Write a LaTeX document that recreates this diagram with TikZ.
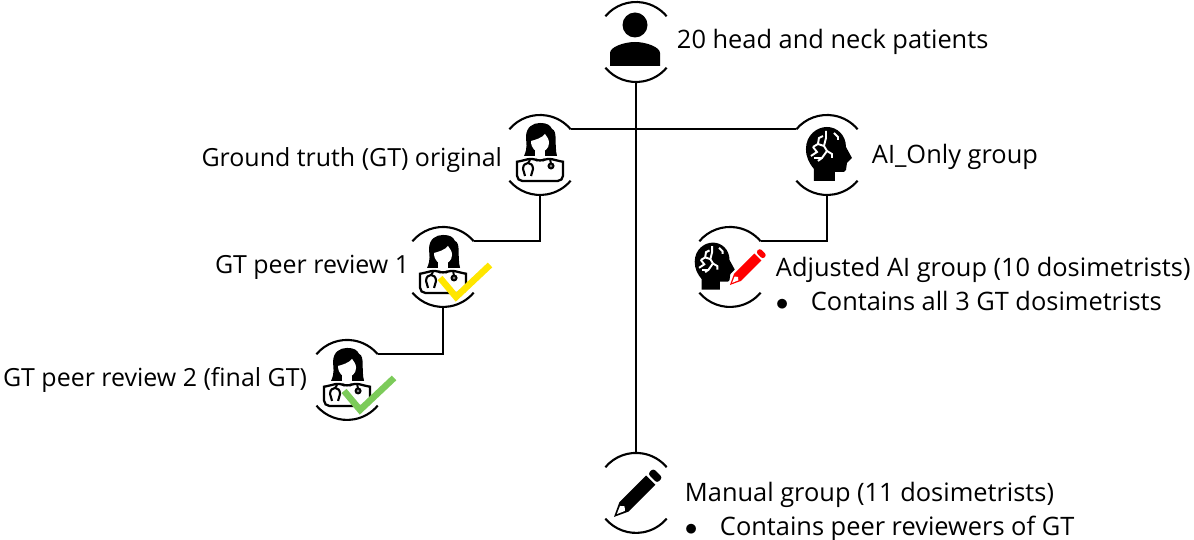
\documentclass[tikz,border=0pt]{standalone}
\usepackage{fontspec}
\setmainfont{Open Sans}
\usetikzlibrary{positioning}

\definecolor{tickyellow}{RGB}{255,230,0}
\definecolor{tickgreen}{RGB}{124,203,90}

\tikzset{
  ring/.style={circle,minimum size=1.6cm,inner sep=0pt,outer sep=0pt},
  wire/.style={line width=1.2pt,black},
  caption/.style={inner sep=0pt,outer sep=0pt,align=left,font=\fontsize{14.45}{19.3}\selectfont},
  leftcaption/.style={caption,font=\fontsize{14.2}{19.3}\selectfont},
  patienticon/.pic={
    \fill (-1,-17) circle (12.5);
    \fill (-26,24) -- (-26,11) .. controls (-26,5) and (-12,0) .. (-1,0) .. controls (10,0) and (24,5) .. (24,11) -- (24,24) -- cycle;
  },
  doctoricon/.pic={
    \fill (-16,1) .. controls (-12,-8) and (-14,-12) .. (-14,-18) .. controls (-14,-28) and (-7,-32) .. (0,-32) .. controls (7,-32) and (10,-30) .. (12,-26) .. controls (18,-24) and (14,-10) .. (17,1) -- cycle;
    \fill[white] (-9,-14) .. controls (-5,-15) and (2,-17) .. (5,-21) .. controls (7,-18) and (9,-16) .. (9,-12) .. controls (9,-6) and (4,-3) .. (0,-3) .. controls (-4,-3) and (-9,-6) .. (-9,-14) -- cycle;
    \fill[white] (-5,-5) rectangle (5,3);
    \draw[line width=1.3pt,rounded corners=3pt] (-23,26) -- (-23,12) .. controls (-23,7) and (-15,5) .. (-7,3) -- (0,7) -- (7,3) .. controls (15,5) and (23,7) .. (23,12) -- (23,26) -- cycle;
    \draw[line width=1.2pt] (-15,21) -- (-17,14) .. controls (-17,6) and (-7,6) .. (-7,14) -- (-9,21);
    \draw[line width=1.1pt] (-12,8) -- (-10,5);
    \draw[line width=1.1pt] (11,9) -- (10,4);
    \draw[line width=1.1pt,fill=gray] (11,11) circle (2.5);
  },
  brainicon/.pic={
    \fill (-13,26) -- (-13,14) .. controls (-18,8) and (-21,2) .. (-21,-6) .. controls (-21,-20) and (-10,-28) .. (0,-28) .. controls (10,-28) and (19,-20) .. (19,-8) -- (25,3) -- (20,8) -- (19,15) -- (17,17) -- (8,17) -- (8,26) -- cycle;
    \draw[white,line width=1.1pt] (-1,-24) -- (-1,-17) -- (-3,-9) -- (0,-4) -- (-5,3) -- (-9,6);
    \draw[white,line width=1.1pt] (-3,-9) -- (-9,-11) -- (-14,-8);
    \draw[white,line width=1.1pt] (-9,-11) -- (-8,-17) -- (-4,-19);
    \draw[white,line width=1.1pt] (-14,-8) -- (-10,-3) -- (-16,1);
    \draw[white,line width=1.1pt] (0,-4) -- (5,-1) -- (5,3);
    \draw[white,line width=1.1pt] (-5,3) -- (-13,3);
    \draw[white,line width=1.1pt] (7,-22) -- (11,-18) -- (11,-15);
  },
  pencilicon/.pic={
    \fill[#1] (0,0) -- (14,-6.5) -- (52,-6.5) -- (52,6.5) -- (14,6.5) -- cycle;
    \fill[white] (4,0) -- (12,-3.5) -- (15,0) -- (12,3.5) -- cycle;
    \fill[#1,rounded corners=1.5pt] (54.5,-6.5) rectangle (62,6.5);
  },
  tickicon/.pic={
    \draw[#1,line width=3.7pt] (-3,11) -- (13,30) -- (47,-2);
  }
}

% one pair of arcs round an icon
\newcommand{\ringarcs}[1]{
  \draw[wire] (#1.140) arc[start angle=-140,end angle=-40,radius=40];
  \draw[wire] (#1.220) arc[start angle=140,end angle=40,radius=40];
}

\begin{document}
\begin{tikzpicture}[x=0.02cm,y=-0.02cm,on grid]
\useasboundingbox (0,0) rectangle (1194,540);

\node[ring] (patient) at (636,42) {};
\node[ring] (gt) [below left = 2.26cm and 1.92cm of patient] {};
\node[ring] (ai) [below right = 2.26cm and 3.82cm of patient] {};
\node[ring] (peerone) [below left = 2.24cm and 1.94cm of gt] {};
\node[ring] (peertwo) [below left = 2.26cm and 1.92cm of peerone] {};
\node[ring] (adjusted) [below left = 2.24cm and 1.94cm of ai] {};
\node[ring] (manual) [below = 9.02cm of patient] {};

\ringarcs{patient}
\ringarcs{gt}
\ringarcs{ai}
\ringarcs{peerone}
\ringarcs{peertwo}
\ringarcs{adjusted}
\ringarcs{manual}

\pic at (patient) {patienticon};
\pic at (gt) {doctoricon};
\pic at (ai) {brainicon};
\pic at (peerone) {doctoricon};
\pic at (peerone) {tickicon=tickyellow};
\pic at (peertwo) {doctoricon};
\pic at (peertwo) {tickicon=tickgreen};
\pic[scale=.87] at ([xshift=-.34cm]adjusted) {brainicon};
\pic[rotate=45,scale=.76] at ([yshift=-.36cm]adjusted) {pencilicon=red};
\pic[rotate=45] at ([xshift=-.44cm,yshift=-.48cm]manual) {pencilicon=black};

\draw[wire] (patient.south) -- (manual.north);
\draw[wire] (gt.40) -- (ai.140);
\draw[wire] (gt.south) |- (peerone.40);
\draw[wire] (peerone.south) |- (peertwo.40);
\draw[wire] (ai.south) |- (adjusted.40);

\node[caption,right = 0.02cm of patient.east,anchor=west] (patienttext) {20 head and neck patients};
\node[leftcaption,left = -0.04cm of gt.west,anchor=east,yshift=-.1cm] (gttext) {Ground truth (GT) original};
\node[caption,right = 0.1cm of ai.east,anchor=west,yshift=-.04cm] (aitext) {AI\_Only group};
\node[leftcaption,left = -0.12cm of peerone.west,anchor=east] (peeronetext) {GT peer review 1};
\node[leftcaption,left = 0.0cm of peertwo.west,anchor=east] (peertwotext) {GT peer review 2 (final GT)};
\node[caption,right = 0.12cm of adjusted.east,anchor=west,yshift=-.34cm] (adjustedtext) {Adjusted AI group (10 dosimetrists)\\\makebox[0.7cm][l]{$\bullet$}Contains all 3 GT dosimetrists};
\node[caption,right = 0.18cm of manual.east,anchor=west,yshift=-.38cm] (manualtext) {Manual group (11 dosimetrists)\\\makebox[0.7cm][l]{$\bullet$}Contains peer reviewers of GT};

\end{tikzpicture}
\end{document}
